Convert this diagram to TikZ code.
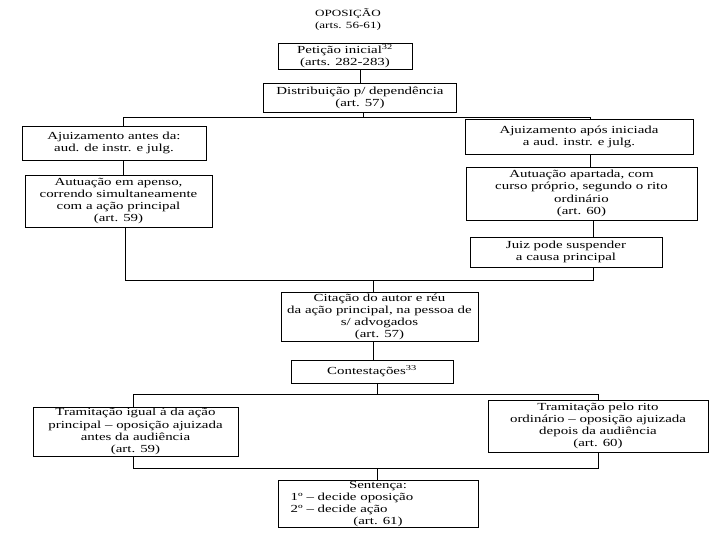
\documentclass[tikz,border=0pt]{standalone}
\usepackage{fontspec}
\setmainfont{Liberation Serif}[FakeStretch=1.38]
\usetikzlibrary{positioning, calc}

\begin{document}
\begin{tikzpicture}[x=1pt, y=-1pt,
    caixa/.style={draw, line width=0.9pt, inner sep=1pt, align=center,
        font=\fontsize{10.8}{12.2}\selectfont},
    ligacao/.style={line width=0.9pt}]
        \useasboundingbox[fill=white] (0,0) rectangle (720,540);

        % Title
        \node[align=center, font=\fontsize{9.5}{12}\selectfont] (titulo) at (348,20)
            {OPOSIÇÃO\\(arts. 56-61)};

        % Boxes, top part
        \node[caixa, minimum width=134pt, minimum height=26pt] (pet) at (345,56)
            {Petição inicial\textsuperscript{32}\\(arts. 282-283)};
        \node[caixa, minimum width=193pt, minimum height=29pt] (dist) at (360,97.5)
            {Distribuição p/ dependência\\(art. 57)};

        % Left branch
        \node[caixa, minimum width=184pt, minimum height=34pt] (antes) at (114,143)
            {Ajuizamento antes da:\\aud. de instr. e julg.};
        \node[caixa, minimum width=187pt, minimum height=52pt] (apenso) at (118.5,201)
            {Autuação em apenso,\\correndo simultaneamente\\com a ação principal\\(art. 59)};

        % Right branch
        \node[caixa, minimum width=228pt, minimum height=35pt] (apos) at (579,137)
            {Ajuizamento após iniciada\\a aud. instr. e julg.};
        \node[caixa, minimum width=231pt, minimum height=53pt] (apartada) at (581.5,193.5)
            {Autuação apartada, com\\curso próprio, segundo o rito\\ordinário\\(art. 60)};
        \node[caixa, minimum width=192pt, minimum height=30pt] (juiz) at (566,252)
            {Juiz pode suspender\\a causa principal};

        % Middle
        \node[caixa, minimum width=197pt, minimum height=48pt] (citacao) at (379.5,317)
            {Citação do autor e réu\\da ação principal, na pessoa de\\s/ advogados\\(art. 57)};
        \node[caixa, minimum width=162pt, minimum height=23pt] (contest) at (372,371.5)
            {Contestações\textsuperscript{33}};

        % Bottom branches
        \node[caixa, minimum width=205pt, minimum height=49pt] (igual) at (135.5,431.5)
            {Tramitação igual à da ação\\principal -- oposição ajuizada\\antes da audiência\\(art. 59)};
        \node[caixa, minimum width=220pt, minimum height=52pt] (rito) at (598,426)
            {Tramitação pelo rito\\ordinário -- oposição ajuizada\\depois da audiência\\(art. 60)};
        \node[caixa, minimum width=200pt, minimum height=46pt] (sentenca) at (378,504)
            {Sentença:\\\begin{tabular}{@{}l@{\hspace{52pt}}}1º -- decide oposição\\2º -- decide ação\end{tabular}\\(art. 61)};

        % Split and join points
        \coordinate (s1) at (363,117);
        \coordinate (s1l) at (123,117);
        \coordinate (s1r) at (590,117);
        \coordinate (j1) at (373,280);
        \coordinate (j1l) at (125,280);
        \coordinate (j1r) at (593,280);
        \coordinate (s2) at (377,394);
        \coordinate (s2l) at (133,394);
        \coordinate (s2r) at (598,394);
        \coordinate (j2) at (377,468);
        \coordinate (j2l) at (133,468);
        \coordinate (j2r) at (598,468);

        % Connectors
        \draw[ligacao] (pet.south -| dist.north) -- (dist.north);
        \draw[ligacao] (dist.south -| s1) -- (s1);
        \draw[ligacao] (antes.north -| s1l) -- (s1l) -- (s1r) -- (apos.north -| s1r);
        \draw[ligacao] (antes.south -| s1l) -- (apenso.north -| s1l);
        \draw[ligacao] (apos.south -| s1r) -- (apartada.north -| s1r);
        \draw[ligacao] (apartada.south -| j1r) -- (juiz.north -| j1r);
        \draw[ligacao] (apenso.south -| j1l) -- (j1l) -- (j1r) -- (juiz.south -| j1r);
        \draw[ligacao] (j1) -- (citacao.north -| j1);
        \draw[ligacao] (citacao.south -| j1) -- (contest.north -| j1);
        \draw[ligacao] (contest.south -| s2) -- (s2);
        \draw[ligacao] (igual.north -| s2l) -- (s2l) -- (s2r) -- (rito.north -| s2r);
        \draw[ligacao] (igual.south -| j2l) -- (j2l) -- (j2r) -- (rito.south -| j2r);
        \draw[ligacao] (j2) -- (sentenca.north -| j2);
    \end{tikzpicture}
\end{document}
